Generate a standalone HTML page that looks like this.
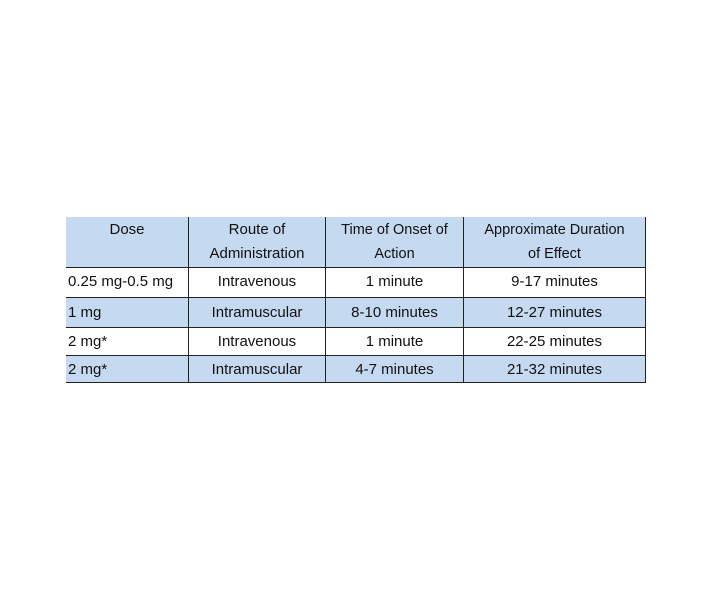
<!DOCTYPE html>
<html><head><style>
body{margin:0;width:710px;height:599px;background:#fff;position:relative;font-family:"Liberation Sans",sans-serif;font-size:15px;color:#111;}
.r{position:absolute;left:66px;width:580px;}
.b{background:#c5d9f1;}
.h{position:absolute;left:66px;width:580px;height:1px;background:#222;}
.v{position:absolute;top:217px;height:166px;width:1px;background:#222;}
.c{position:absolute;text-align:center;white-space:nowrap;}
</style></head><body>
<div class="r b" style="top:217px;height:50px"></div>
<div class="r b" style="top:298px;height:29px"></div>
<div class="r b" style="top:356px;height:26px"></div>
<div class="h" style="top:267px"></div>
<div class="h" style="top:297px"></div>
<div class="h" style="top:327px"></div>
<div class="h" style="top:355px"></div>
<div class="h" style="top:382px"></div>
<div class="v" style="left:188px"></div>
<div class="v" style="left:325px"></div>
<div class="v" style="left:463px"></div>
<div class="v" style="left:645px"></div>

<div class="c" style="left:66px;width:122px;top:218px;line-height:24px">Dose</div>
<div class="c" style="left:189px;width:136px;top:218px;line-height:24px">Route of<br>Administration</div>
<div class="c" style="left:326px;width:137px;top:218px;line-height:24px;font-size:14.5px">Time of Onset of<br>Action</div>
<div class="c" style="left:464px;width:181px;top:218px;line-height:24px;font-size:14.5px">Approximate Duration<br>of Effect</div>

<div class="c" style="left:68px;top:273px;text-align:left">0.25 mg-0.5 mg</div>
<div class="c" style="left:68px;top:304px;text-align:left">1 mg</div>
<div class="c" style="left:68px;top:333px;text-align:left">2 mg*</div>
<div class="c" style="left:68px;top:361px;text-align:left">2 mg*</div>

<div class="c" style="left:189px;width:136px;top:273px">Intravenous</div>
<div class="c" style="left:189px;width:136px;top:304px">Intramuscular</div>
<div class="c" style="left:189px;width:136px;top:333px">Intravenous</div>
<div class="c" style="left:189px;width:136px;top:361px">Intramuscular</div>

<div class="c" style="left:326px;width:137px;top:273px">1 minute</div>
<div class="c" style="left:326px;width:137px;top:304px">8-10 minutes</div>
<div class="c" style="left:326px;width:137px;top:333px">1 minute</div>
<div class="c" style="left:326px;width:137px;top:361px">4-7 minutes</div>

<div class="c" style="left:464px;width:181px;top:273px">9-17 minutes</div>
<div class="c" style="left:464px;width:181px;top:304px">12-27 minutes</div>
<div class="c" style="left:464px;width:181px;top:333px">22-25 minutes</div>
<div class="c" style="left:464px;width:181px;top:361px">21-32 minutes</div>
</body></html>
